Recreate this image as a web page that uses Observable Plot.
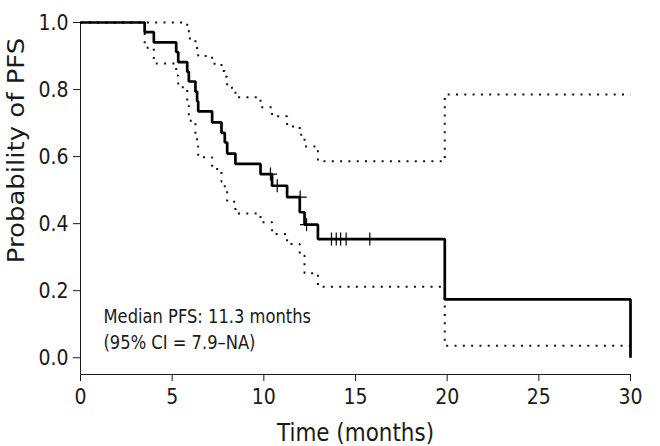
<!DOCTYPE html>
<html><head><meta charset="utf-8">
<script src="https://cdn.jsdelivr.net/npm/d3@7"></script>
<script src="https://cdn.jsdelivr.net/npm/@observablehq/plot@0.6"></script>
<style>body{margin:0;background:#fff} #chart svg{display:block}</style>
</head><body><div id="chart"></div>
<script>
// Kaplan–Meier estimate (step values after each event time)
const eventTimes = [0, 3.5, 4.0, 5.22, 5.33, 5.82, 5.91, 6.27, 6.36, 6.42, 7.18, 7.69, 7.87, 8.0, 8.45, 9.82, 10.45, 11.27, 11.96, 12.22, 12.95, 19.87, 30];
const survival   = [1, 0.971, 0.941, 0.912, 0.882, 0.853, 0.824, 0.794, 0.765, 0.735, 0.702, 0.671, 0.642, 0.609, 0.578, 0.548, 0.513, 0.479, 0.434, 0.397, 0.354, 0.174, 0];
const upperCI    = [1, 1, 1, 1, 1, 0.976, 0.952, 0.93, 0.911, 0.90, 0.877, 0.855, 0.838, 0.805, 0.777, 0.747, 0.72, 0.69, 0.665, 0.63, 0.586, 0.785, 0.785];
const lowerCI    = [1, 0.925, 0.878, 0.842, 0.807, 0.752, 0.707, 0.665, 0.63, 0.598, 0.563, 0.525, 0.50, 0.465, 0.43, 0.404, 0.369, 0.339, 0.304, 0.252, 0.212, 0.036, 0.036];
// censoring marks
const censorTimes = [10.36, 10.73, 11.98, 12.33, 13.69, 13.95, 14.19, 14.49, 15.78];
const censorSurv  = [0.548, 0.513, 0.479, 0.397, 0.354, 0.354, 0.354, 0.354, 0.354];
const xTicks = [0, 5, 10, 15, 20, 25, 30];
const yTicks = [0, 0.2, 0.4, 0.6, 0.8, 1.0];
const annotation = ["Median PFS: 11.3 months", "(95% CI = 7.9–NA)"];
const xTitle = "Time (months)";
const yTitle = "Probability of PFS";

const km = eventTimes.map((t, i) => ({t, s: survival[i], lo: lowerCI[i], hi: upperCI[i]}));
const censored = censorTimes.map((t, i) => ({t, s: censorSurv[i]}));

const ink = "#1a1a1a";
const dotted = {curve: "step-after", stroke: "#111", strokeWidth: 2, strokeDasharray: "2 6.3", strokeLinecap: "butt", strokeLinejoin: "miter"};

const chart = Plot.plot({
  width: 660, height: 446,
  marginLeft: 80, marginRight: 30, marginTop: 22, marginBottom: 72,
  style: {fontFamily: "'DejaVu Sans', sans-serif", fontSize: "22px", color: ink, background: "#fff"},
  x: {domain: [0, 30]},
  y: {domain: [-0.05, 1]},
  marks: [
    Plot.frame({anchor: "left", stroke: ink}),
    Plot.frame({anchor: "bottom", stroke: ink}),
    Plot.axisX({ticks: xTicks, tickSize: 7, tickPadding: 7, tickFormat: d => String(d), label: null, fontSize: 22}),
    Plot.axisY({ticks: yTicks, tickSize: 7, tickPadding: 5, tickFormat: d3.format(".1f"), label: null, fontSize: 22}),
    Plot.line(km, {x: "t", y: "hi", ...dotted}),
    Plot.line(km, {x: "t", y: "lo", ...dotted}),
    Plot.line(km, {x: "t", y: "s", curve: "step-after", stroke: "#000", strokeWidth: 2.7, strokeLinecap: "butt", strokeLinejoin: "miter"}),
    Plot.dot(censored, {x: "t", y: "s", symbol: "plus", r: 4.3, stroke: "#000", strokeWidth: 1.2}),
    Plot.text([annotation.join("\n")], {frameAnchor: "bottom-left", textAnchor: "start", lineAnchor: "middle", lineHeight: 1.4, dx: 23, dy: -47, fontSize: 19, fill: ink}),
    Plot.text([xTitle], {frameAnchor: "bottom", textAnchor: "middle", lineAnchor: "middle", dy: 58, fontSize: 25, fill: ink}),
    Plot.text([yTitle], {frameAnchor: "left", textAnchor: "middle", lineAnchor: "middle", rotate: -90, dx: -64, dy: -48, fontSize: 26, fill: ink})
  ]
});

// The reference lettering is slightly condensed: compress each label about its own anchor.
const K = 0.86;
chart.querySelectorAll("text").forEach(t => {
  const tr = t.getAttribute("transform") || "";
  if (/translate\(/.test(tr)) {
    t.setAttribute("transform", tr.replace(/(translate\([^)]*\))/, `$1 scale(${K},1)`));
  } else {
    const x = +(t.getAttribute("x") || 0);
    t.setAttribute("transform", `translate(${x},0) scale(${K},1) translate(${-x},0) ${tr}`);
  }
});
document.getElementById("chart").append(chart);
</script>
</body></html>
